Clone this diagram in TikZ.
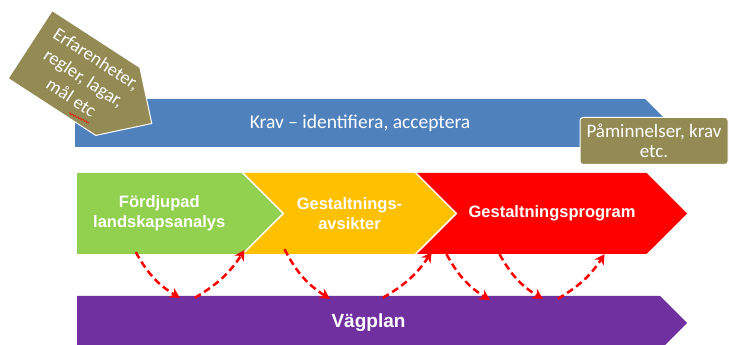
\documentclass[tikz,border=0pt]{standalone}
\usepackage{fontspec}
\setmainfont{Carlito}
\newfontfamily\arialfont{Liberation Sans}
\usetikzlibrary{shapes.symbols,arrows.meta,decorations.pathmorphing}
\definecolor{kravblue}{HTML}{4F81BD}
\definecolor{erfolive}{HTML}{948A54}
\definecolor{fdlgreen}{HTML}{92D050}
\definecolor{gavorange}{HTML}{FFC000}
\definecolor{gprred}{HTML}{FF0000}
\definecolor{vagpurple}{HTML}{7030A0}

\begin{document}
\begin{tikzpicture}[x=1pt,y=1pt,
  band/.style={shape=signal,signal to=east,signal pointer angle=90,inner sep=0pt,text=white,align=center},
  chev/.style={band,minimum height=81pt,font=\arialfont\bfseries\fontsize{16.5}{20}\selectfont},
  dasharr/.style={-{Stealth[length=10pt,width=11pt]},gprred,line width=2.5pt,dash pattern=on 7pt off 4pt}]
\useasboundingbox (0,0) rectangle (729,345);
\clip (0,0) rectangle (729,345);
% krav band and notes
\node[band,fill=kravblue,minimum width=594pt,minimum height=48pt,font=\fontsize{19.5}{22}\selectfont] (krav) at (360,222) {Krav -- identifiera, acceptera};
\node[band,fill=erfolive,draw=white,line width=1pt,minimum width=145pt,minimum height=81pt,rotate=-33] (erf) at (74,272) {};
\node[rotate=-33,inner sep=0pt,align=center,text=white,font=\fontsize{18.5}{23}\selectfont] (erftxt) at (84,267) {Erfarenheter,\\regler, lagar,\\mål etc};
\draw[red,line width=0.6pt,decorate,decoration={snake,amplitude=0.8pt,segment length=3pt}] (69,232) -- (89,222);
\node[draw=white,line width=1pt,fill=erfolive,rounded corners=3pt,minimum width=148pt,minimum height=47pt,inner sep=1pt,align=center,text=white,font=\fontsize{19}{20}\selectfont] (pam) at (654,204) {Påminnelser, krav\\etc.};
% process chevrons
\node[chev,fill=fdlgreen,minimum width=205pt] (fdl) at (159.25,131.5) {Fördjupad\\landskapsanalys};
\node[chev,signal from=west,fill=gavorange,minimum width=211pt] (gav) at (349.5,131.5) {Gestaltnings-\\avsikter};
\node[chev,signal from=west,fill=gprred,minimum width=270pt] (gpr) at (552,131.5) {Gestaltningsprogram};
\node[band,fill=vagpurple,minimum width=610pt,minimum height=54pt,font=\arialfont\bfseries\fontsize{19}{22}\selectfont] (vag) at (368.5,22) {Vägplan};
% feedback arrows
\draw[dasharr] ([xshift=59pt,yshift=2pt]fdl.south west) to[bend right=15] ([xshift=103pt,yshift=-2pt]vag.north west);
\draw[dasharr] ([xshift=118pt,yshift=-2pt]vag.north west) to[bend right=13] ([xshift=1pt,yshift=4pt]gav.south west);
\draw[dasharr] ([xshift=41pt,yshift=5pt]gav.south west) to[bend right=15] ([xshift=253pt,yshift=-3pt]vag.north west);
\draw[dasharr] ([xshift=306pt,yshift=-2pt]vag.north west) to[bend right=13] ([xshift=15pt,yshift=2pt]gpr.south west);
\draw[dasharr] ([xshift=30pt,yshift=0pt]gpr.south west) to[bend right=15] ([xshift=413pt,yshift=-4pt]vag.north west);
\draw[dasharr] ([xshift=83pt,yshift=0pt]gpr.south west) to[bend right=15] ([xshift=466pt,yshift=-3pt]vag.north west);
\draw[dasharr] ([xshift=481pt,yshift=-3pt]vag.north west) to[bend right=13] ([xshift=188pt,yshift=0pt]gpr.south west);
\end{tikzpicture}
\end{document}
